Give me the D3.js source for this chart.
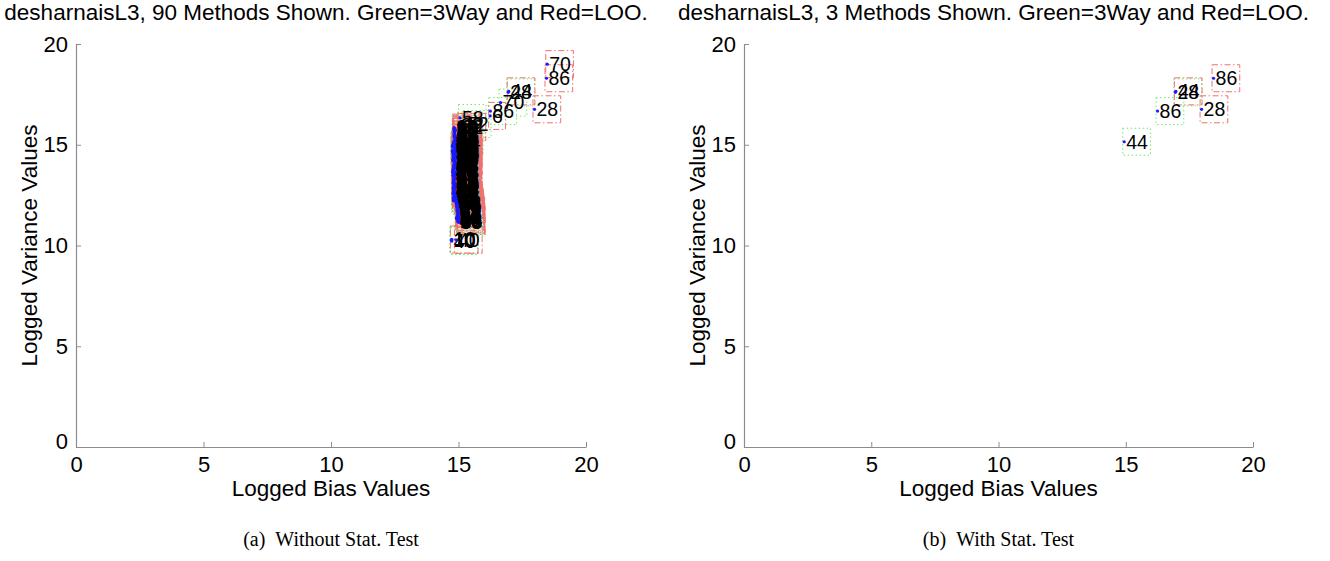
<!DOCTYPE html>
<html>
<head>
<meta charset="utf-8">
<script src="https://cdn.jsdelivr.net/npm/d3@7"></script>
<style>
  body { margin: 0; background: #fff; }
  text { font-family: "Liberation Sans", Arial, sans-serif; }
</style>
</head>
<body>
<svg id="chart" width="1330" height="561"></svg>
<script>
// Method numbers and their logged bias / variance under the two validation schemes
const methodIds = [
  1, 2, 3, 4, 5, 6, 7, 8, 9, 10, 11, 12, 13, 14, 15, 16, 17, 18, 19, 20,
  21, 22, 23, 24, 25, 26, 27, 28, 29, 30, 31, 32, 33, 34, 35, 36, 37, 38, 39, 40,
  41, 42, 43, 44, 45, 46, 47, 48, 49, 50, 51, 52, 53, 54, 55, 56, 57, 58, 59, 60,
  61, 62, 63, 64, 65, 66, 67, 68, 69, 70, 71, 72, 73, 74, 75, 76, 77, 78, 79, 80,
  81, 82, 83, 84, 85, 86, 87, 88, 89, 90
];
const bias3Way = [
  14.84, 14.82, 14.90, 14.81, 14.86, 14.83, 14.79, 14.95, 14.85, 14.72,
  14.82, 14.92, 14.78, 14.87, 14.80, 14.97, 14.84, 14.77, 14.88, 14.81,
  14.86, 14.98, 14.80, 14.83, 14.87, 14.79, 14.94, 16.95, 14.84, 14.76,
  14.82, 15.02, 14.80, 14.88, 14.78, 14.92, 14.83, 14.81, 14.86, 14.74,
  14.82, 14.97, 14.79, 14.94, 14.84, 14.77, 14.93, 14.87, 14.81, 14.83,
  14.79, 15.25, 14.85, 14.99, 14.81, 14.76, 14.89, 15.06, 14.83, 14.80,
  14.94, 14.82, 14.78, 14.86, 14.82, 14.97, 14.80, 14.87, 14.78, 16.65,
  14.84, 14.90, 14.81, 14.84, 14.95, 14.79, 14.82, 14.87, 14.77, 14.93,
  14.82, 14.86, 14.80, 14.98, 14.83, 16.25, 14.81, 15.00, 14.88, 14.80
];
const var3Way = [
  15.62, 14.41, 13.87, 12.64, 15.31, 15.48, 13.12, 11.42, 14.76, 10.25,
  13.55, 12.08, 14.20, 15.05, 12.35, 11.20, 13.38, 14.62, 12.90, 15.78,
  14.05, 11.65, 13.71, 12.52, 15.18, 14.33, 11.88, 17.60, 13.02, 14.90,
  13.25, 15.95, 12.22, 14.55, 13.48, 11.33, 15.40, 12.77, 14.16, 10.22,
  13.93, 11.57, 14.48, 15.15, 12.45, 13.63, 12.00, 14.85, 13.17, 15.55,
  12.85, 16.03, 14.30, 11.25, 13.80, 14.68, 12.27, 16.33, 13.43, 15.10,
  11.78, 14.00, 12.58, 15.25, 13.30, 11.48, 14.42, 12.95, 13.75, 17.09,
  14.72, 12.13, 13.05, 15.45, 11.70, 14.25, 12.70, 13.58, 14.95, 11.95,
  13.98, 12.40, 14.58, 11.36, 15.68, 16.67, 13.35, 11.15, 14.45, 12.80
];
const biasLOO = [
  14.86, 14.84, 14.92, 14.83, 14.88, 16.24, 14.81, 14.97, 14.87, 14.74,
  14.84, 14.94, 14.80, 14.89, 14.82, 14.99, 14.86, 14.79, 14.90, 14.83,
  14.88, 15.00, 14.82, 14.85, 14.89, 14.81, 14.96, 17.98, 14.86, 14.78,
  14.84, 15.04, 14.82, 14.90, 14.80, 14.94, 14.85, 14.83, 14.88, 14.90,
  14.84, 14.99, 14.81, 16.97, 14.86, 14.79, 14.95, 14.89, 14.83, 14.85,
  14.81, 14.88, 14.87, 15.01, 14.83, 14.78, 14.91, 14.86, 14.85, 14.82,
  14.96, 14.84, 14.80, 14.88, 14.84, 14.99, 14.82, 14.89, 14.80, 18.48,
  14.86, 14.92, 14.83, 14.86, 14.97, 14.81, 14.84, 14.89, 14.79, 14.95,
  14.84, 14.88, 14.82, 15.00, 14.85, 18.45, 14.83, 15.02, 14.90, 14.82
];
const varLOO = [
  15.70, 14.52, 13.95, 12.71, 15.40, 16.43, 13.20, 11.50, 14.83, 10.30,
  13.61, 12.16, 14.28, 15.12, 12.44, 11.28, 13.45, 14.70, 12.97, 15.85,
  14.12, 11.73, 13.79, 12.60, 15.26, 14.40, 11.95, 16.76, 13.09, 14.97,
  13.33, 15.88, 12.30, 14.63, 13.56, 11.40, 15.47, 12.84, 14.24, 10.28,
  14.00, 11.62, 14.56, 17.65, 12.53, 13.70, 12.07, 14.92, 13.24, 15.63,
  12.93, 15.72, 14.37, 11.33, 13.87, 14.75, 12.35, 15.80, 13.50, 15.18,
  11.85, 14.08, 12.66, 15.33, 13.37, 11.55, 14.50, 13.03, 13.83, 19.00,
  14.80, 12.20, 13.12, 15.52, 11.77, 14.33, 12.78, 13.66, 15.02, 12.02,
  14.06, 12.48, 14.65, 11.43, 15.75, 18.30, 13.42, 11.22, 14.52, 12.88
];
// Methods that survive the statistical test
const significantIds = [44, 28, 86];

const axisTicks = [0, 5, 10, 15, 20];
const panelTitles = [
  "desharnaisL3, 90 Methods Shown. Green=3Way and Red=LOO.",
  "desharnaisL3, 3 Methods Shown. Green=3Way and Red=LOO."
];
const panelCaptions = ["(a)\u2002Without Stat. Test", "(b)\u2002With Stat. Test"];
const xLabel = "Logged Bias Values";
const yLabel = "Logged Variance Values";

const svg = d3.select("#chart");
svg.append("rect").attr("width", 1330).attr("height", 561).attr("fill", "#fff");

const panels = [
  { left: 76, right: 586, top: 44, bottom: 447, ids: methodIds },
  { left: 744, right: 1253, top: 44, bottom: 447, ids: significantIds }
];

const styles = {
  threeWay: { stroke: "#70e870", dash: "1.5,2.5" },
  loo: { stroke: "#f27070", dash: "6,2.5,1.5,2.5" }
};

panels.forEach((p, pi) => {
  const x = d3.scaleLinear().domain([0, 20]).range([p.left, p.right]);
  const y = d3.scaleLinear().domain([0, 20]).range([p.bottom, p.top]);
  const g = svg.append("g");

  // axes: bottom and left only, ticks pointing inward
  const xAxis = d3.axisBottom(x).tickValues(axisTicks).tickSizeInner(-5).tickSizeOuter(0).tickPadding(9);
  const yAxis = d3.axisLeft(y).tickValues(axisTicks).tickSizeInner(-5).tickSizeOuter(0).tickPadding(8);
  const gx = g.append("g").attr("transform", `translate(0,${p.bottom})`).call(xAxis);
  const gy = g.append("g").attr("transform", `translate(${p.left},0)`).call(yAxis);
  [gx, gy].forEach(a => {
    a.select(".domain").attr("stroke", "#8c8c8c").attr("stroke-width", 1.2);
    a.selectAll(".tick line").attr("stroke", "#8c8c8c").attr("stroke-width", 1);
    a.selectAll(".tick text").attr("fill", "#000").style("font-size", "22px")
      .style("font-family", '"Liberation Sans", Arial, sans-serif');
  });
  gx.selectAll(".tick text").attr("dy", "0.71em");
  gy.selectAll(".tick text").attr("dy", "0.32em");
  gy.selectAll(".tick").filter(d => d === 0).select("text").attr("dy", "0.05em");

  const cx = (p.left + p.right) / 2;
  g.append("text").attr("x", cx - 5).attr("y", 20).attr("text-anchor", "middle")
    .style("font-size", "22.5px").text(panelTitles[pi]);
  g.append("text").attr("x", cx).attr("y", 496).attr("text-anchor", "middle")
    .style("font-size", "22.5px").text(xLabel);
  g.append("text").attr("transform", `translate(${p.left - 39},${(p.top + p.bottom) / 2}) rotate(-90)`)
    .attr("text-anchor", "middle").style("font-size", "22.5px").text(yLabel);
  g.append("text").attr("x", cx).attr("y", 546).attr("text-anchor", "middle")
    .style("font-family", '"Liberation Serif", "Times New Roman", serif').style("font-size", "20px")
    .text(panelCaptions[pi]);

  // labelled points: all 3Way marks first, then the LOO marks
  const pts = [];
  p.ids.forEach(id => {
    const i = methodIds.indexOf(id);
    pts.push({ id, b: bias3Way[i], v: var3Way[i], s: styles.threeWay });
  });
  p.ids.forEach(id => {
    const i = methodIds.indexOf(id);
    pts.push({ id, b: biasLOO[i], v: varLOO[i], s: styles.loo });
  });

  const boxLayer = g.append("g");
  const textLayer = g.append("g");
  const pos = d => `translate(${x(d.b)},${y(d.v)})`;

  const labels = textLayer.selectAll("g").data(pts).join("g").attr("transform", pos);
  labels.append("text").attr("x", 2).attr("dy", "0.35em")
    .style("font-size", "19.5px").attr("fill", "#000").text(d => d.id);
  labels.append("circle").attr("r", 1.6).attr("fill", "#1a1aff");

  // frame around each label, sized to its text
  labels.each(function (d) {
    const w = d3.select(this).select("text").node().getComputedTextLength();
    boxLayer.append("rect").attr("transform", pos(d))
      .attr("x", -1.5).attr("y", -13.5).attr("width", w + 6).attr("height", 27)
      .attr("fill", "none").attr("stroke", d.s.stroke).attr("stroke-width", 1)
      .attr("stroke-dasharray", d.s.dash);
  });
});
</script>
</body>
</html>
